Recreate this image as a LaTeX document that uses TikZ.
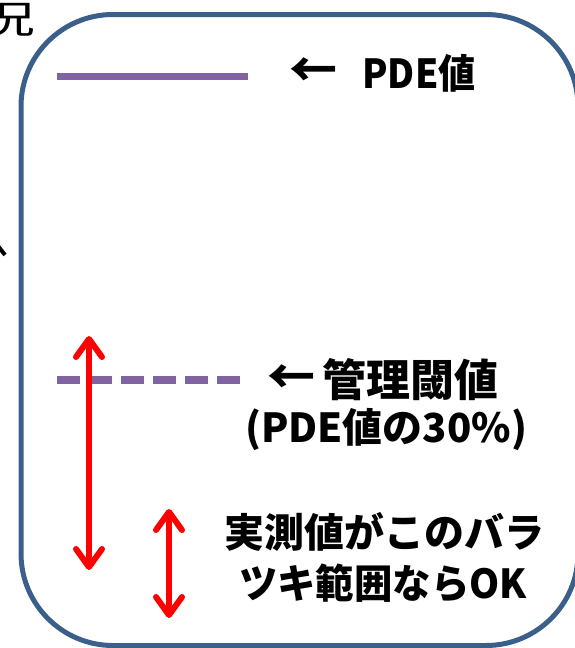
\documentclass[tikz,border=0pt]{standalone}
\usepackage{fontspec}
\newfontfamily\jp{Noto Sans CJK JP}
\usetikzlibrary{arrows.meta}
\definecolor{frameblue}{RGB}{58,95,139}
\definecolor{lineviolet}{RGB}{128,100,162}
\begin{document}
\begin{tikzpicture}[x=1pt,y=-1pt,
  lbl/.style={font=\jp\bfseries\fontsize{40}{48}\selectfont, inner sep=0pt, text=black},
  arrlbl/.style={font=\jp\bfseries\fontsize{48}{52}\selectfont, inner sep=0pt, text=black},
  rng/.style={red, line width=6pt, {Straight Barb[length=18pt,width=26pt,round]}-{Straight Barb[length=18pt,width=26pt,round]}}]
\useasboundingbox (0,0) rectangle (574,648);
% frame
\draw[frameblue, line width=5pt, rounded corners=92pt] (21,14.5) rectangle (578,645.5);
% partial items at left edge
\node[font=\jp\fontsize{38}{40}\selectfont, inner sep=0pt, anchor=east, xscale=1.5] (cut) at (36,19) {況};
\draw[line width=4pt] (-2,246) -- (5,255);
% PDE line
\coordinate (p1) at (57,76);
\coordinate (p2) at (248,76);
\draw[lineviolet, line width=7pt] (p1) -- (p2);
% threshold line
\coordinate (d1) at (57,380);
\coordinate (d2) at (241,380);
\draw[lineviolet, line width=8pt, dash pattern=on 23pt off 9pt] (d1) -- (d2);
% range arrows
\coordinate (a1) at (89,336);
\coordinate (a2) at (89,570);
\draw[rng] (a1) -- (a2);
\coordinate (b1) at (169,509);
\coordinate (b2) at (169,618);
\draw[rng] (b1) -- (b2);
% labels
\node[arrlbl] (t1a) at (313,73) {←};
\node[lbl, xscale=0.93] (t1b) at (419,73) {PDE値};
\node[arrlbl] (t2a) at (291,380) {←};
\node[lbl, font=\jp\bfseries\fontsize{44}{48}\selectfont] (t2b) at (410,380) {管理閾値};
\node[lbl] (t3) at (386,430) {(PDE値の30\%)};
\node[lbl] (t4) at (384,532) {実測値がこのバラ};
\node[lbl, xscale=0.96] (t5) at (383,583) {ツキ範囲ならOK};
\end{tikzpicture}
\end{document}
